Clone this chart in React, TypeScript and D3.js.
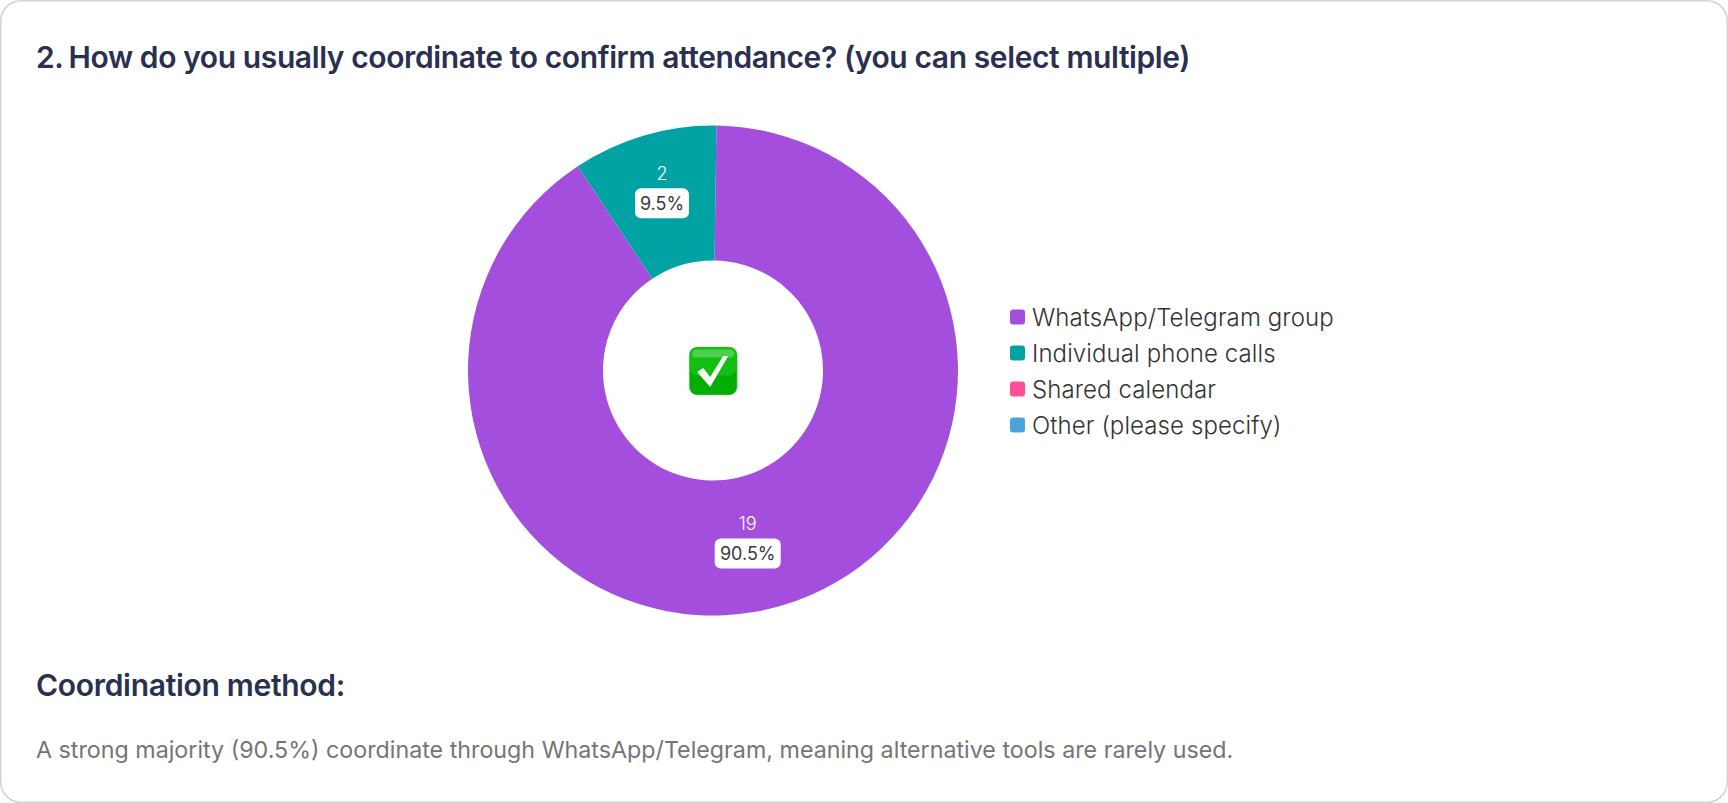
import React from "react";
import * as d3 from "d3";

const categories = ["WhatsApp/Telegram group", "Individual phone calls", "Shared calendar", "Other (please specify)"];
const seriesValues = [19, 2, 0, 0];
const percentLabels = ["90.5%", "9.5%", "", ""];
const colors = ["#a44edd", "#00a2a4", "#ff4f9b", "#4aa3dc"];
const titleNumber = "2.";
const titleText = "How do you usually coordinate to confirm attendance? (you can select multiple)";
const subTitle = "Coordination method:";
const bodyText = "A strong majority (90.5%) coordinate through WhatsApp/Telegram, meaning alternative tools are rarely used.";

const W = 1728, H = 803;
const CX = 713, CY = 370.5, R = 245, IR = 110;
const ROT = 0.014;
const FONT = "Inter, sans-serif";

export default function App() {
  const arcs = d3.pie<number>().sort(null).startAngle(ROT).endAngle(2 * Math.PI + ROT)(seriesValues);
  const arc = d3.arc<d3.PieArcDatum<number>>().innerRadius(IR).outerRadius(R);
  const legendY = d3.scalePoint<string>().domain(categories).range([317, 425]);
  return (
    <svg width={W} height={H} style={{ position: "absolute", left: 0, top: 0, background: "#fff" }} fontFamily={FONT}>
      <rect x={0.75} y={0.75} width={W - 1.5} height={H - 1.5} rx={20} fill="#fff" stroke="#d2d2d2" strokeWidth={1.5} />
      <text y={68} fontSize={30} fontWeight={600} fill="#2a3050">
        <tspan x={36} letterSpacing={-0.43}>{titleNumber}</tspan>
        <tspan x={68.5} letterSpacing={-0.4}>{titleText}</tspan>
      </text>
      <g transform={`translate(${CX},${CY})`}>
        {arcs.map((a, i) => a.value > 0 && <path key={i} d={arc(a) || ""} fill={colors[i]} />)}
      </g>
      {arcs.map((a, i) => {
        if (a.value <= 0) return null;
        const x = i === 0 ? 747.7 : 662;
        const y = i === 0 ? 530 : 179.7;
        const w = i === 0 ? 66 : 54;
        return (
          <g key={i} transform={`translate(${x},${y})`}>
            <text x={0} y={0} textAnchor="middle" fontSize={18} fill="#fff" fontWeight={300}>{a.value}</text>
            <rect x={-w / 2} y={8.5} width={w} height={30} rx={6} fill="#fff" />
            <text x={0} y={30} textAnchor="middle" fontSize={18} fill="#3a3a3a">{percentLabels[i]}</text>
          </g>
        );
      })}
      <g transform="translate(713.2,371)">
        <rect x={-24} y={-24} width={48} height={48} rx={8} fill="#04ad04" stroke="#8fd58f" strokeWidth={0.6} />
        <rect x={-23.5} y={-23.5} width={47} height={28} rx={8} fill="#14bf14" />
        <rect x={-21} y={-21.5} width={42} height={8} rx={4} fill="#4fcf4f" />
        <path d="M-16,1 L-10,-3 L-3,6 L10,-15 L15,-15 L-3,16 Z" fill="#fff" />
      </g>
      {categories.map((c, i) => (
        <g key={c}>
          <rect x={1010} y={(legendY(c) as number) - 7.5} width={15} height={15} rx={3} fill={colors[i]} />
          <text x={1032} y={(legendY(c) as number) + 8.5} fontSize={24} letterSpacing={0.1} fontWeight={300} fill="#333">{c}</text>
        </g>
      ))}
      <text x={36} y={696} fontSize={30} fontWeight={600} fill="#2a3050" letterSpacing={-0.3}>{subTitle}</text>
      <text x={36} y={758} fontSize={23.25} fill="#757575">{bodyText}</text>
    </svg>
  );
}
